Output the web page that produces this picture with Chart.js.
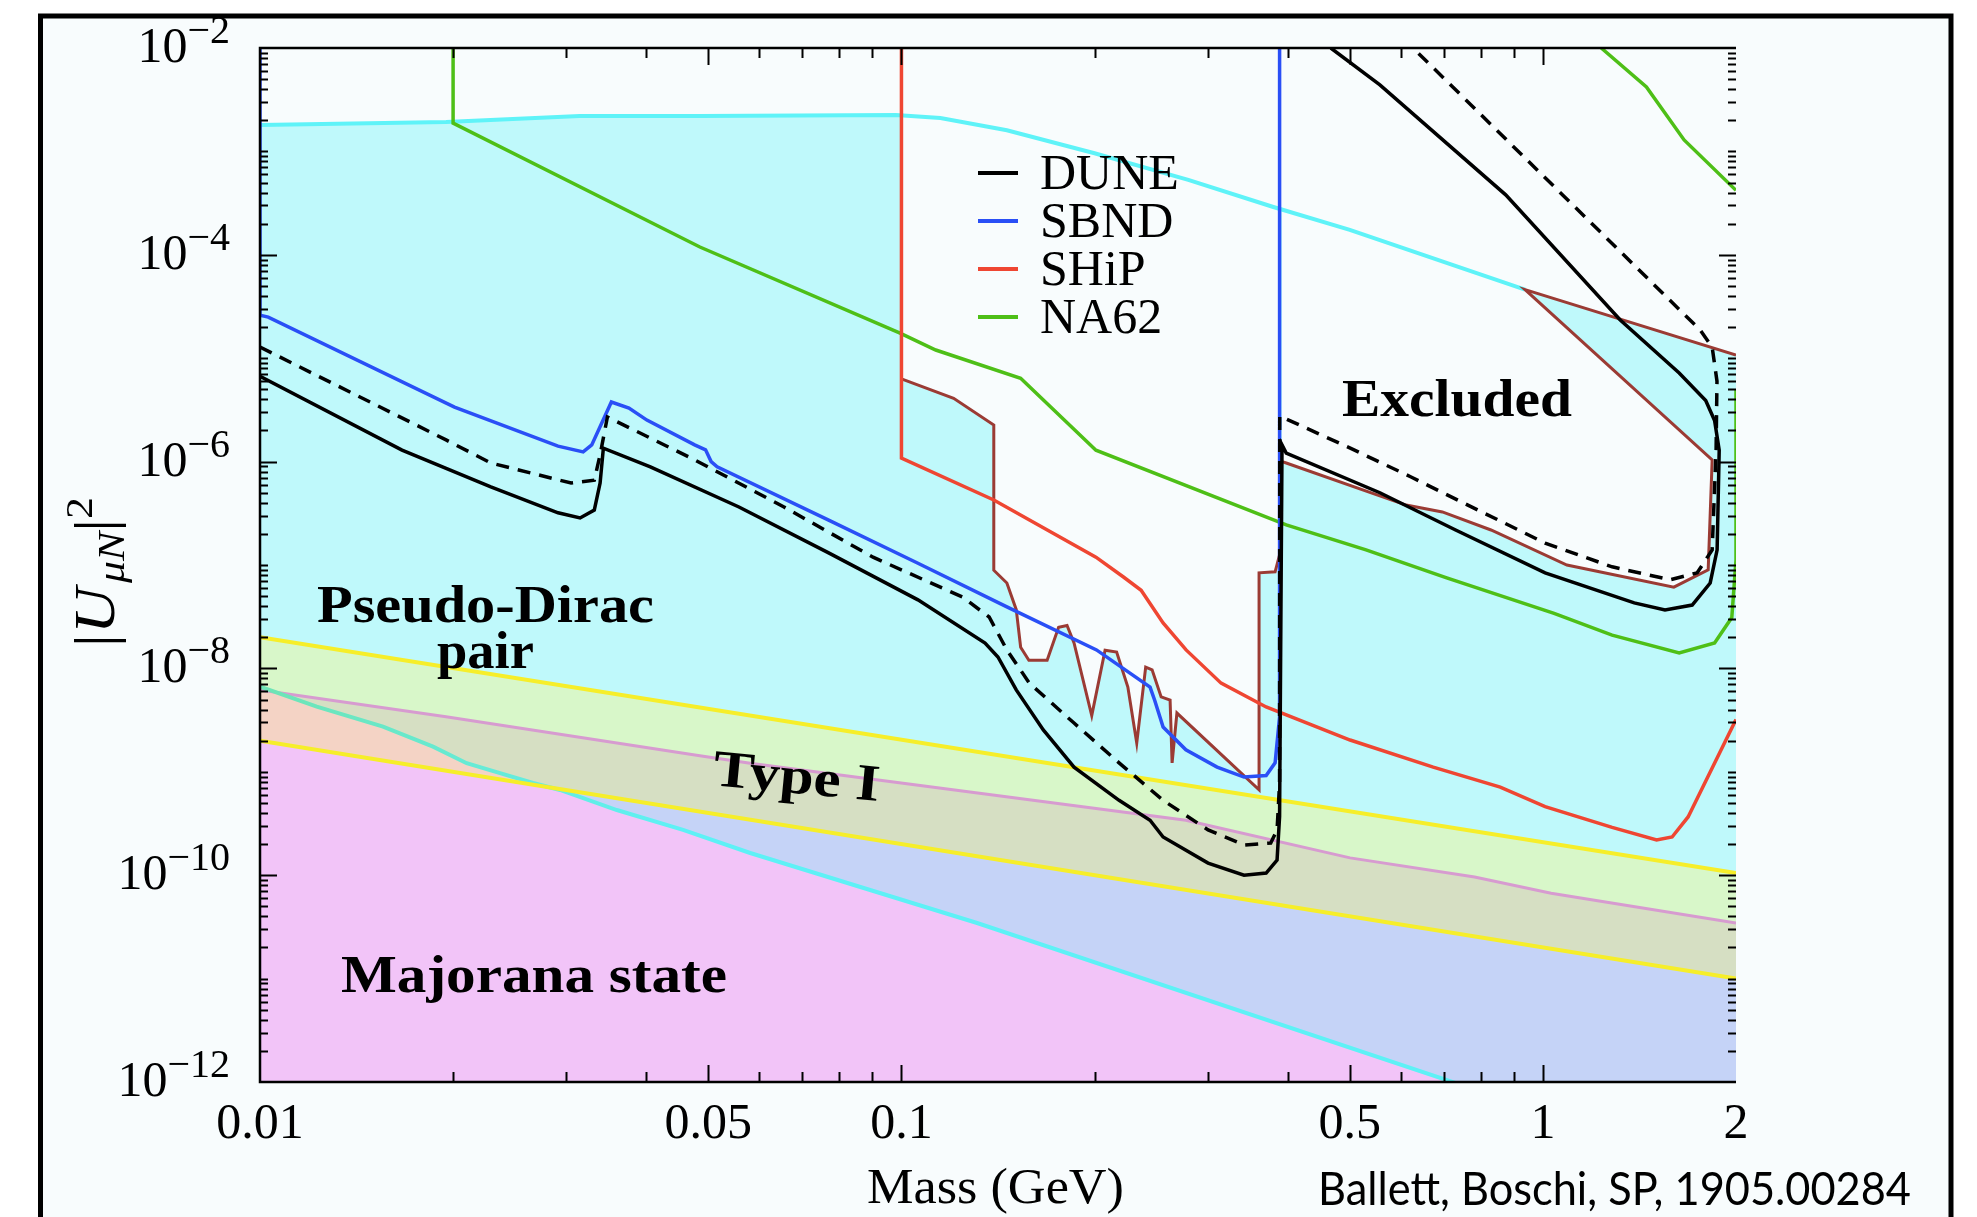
<!DOCTYPE html>
<html>
<head>
<meta charset="utf-8">
<script src="https://cdn.jsdelivr.net/npm/chart.js@4.4.1/dist/chart.umd.min.js"></script>
<style>
  html, body { margin: 0; padding: 0; background: #ffffff; }
  #wrap { width: 1977px; height: 1217px; }
</style>
</head>
<body>
<div id="wrap"><canvas id="hnlChart" width="1977" height="1217"></canvas></div>
<script>
// every pair is [mass in GeV, |U_muN|^2]

// existing bounds (top of the excluded band) and the brown contour pieces
const cyanTop = [[0.01,1.8e-3],[0.0195,1.92e-3],[0.0315,2.2e-3],[0.0485,2.2e-3],[0.098,2.25e-3],[0.115,2.1e-3],[0.146,1.6e-3],[0.2,9.6e-4],[0.28,5.3e-4],[0.38,2.9e-4],[0.5,1.74e-4],[0.938,4.6e-5]];
const triUpper = [[0.938,4.6e-5],[2,1.07e-5]];
const triLower = [[0.938,4.6e-5],[1.836,1.04e-6]];
const brownMid = [[0.1,6.3e-6],[0.1206,4.1e-6],[0.1393,2.26e-6],[0.1393,8.9e-8],[0.146,6.7e-8],[0.151,3.7e-8],[0.1534,1.6e-8],[0.158,1.2e-8],[0.1687,1.2e-8],[0.1758,2.5e-8],[0.1812,2.6e-8],[0.1858,1.76e-8],[0.198,3.5e-9],[0.2077,1.5e-8],[0.2165,1.44e-8],[0.2254,6.6e-9],[0.2327,1.9e-9],[0.2403,1.03e-8],[0.2459,9.7e-9],[0.254,5.3e-9],[0.2623,4.95e-9],[0.2642,1.22e-9],[0.2688,3.7e-9],[0.361,6.7e-10],[0.361,8.4e-8],[0.3824,8.6e-8],[0.3886,1.25e-7]];
const brownRight = [[0.392,1.0e-6],[0.398,9.7e-7],[0.612,3.8e-7],[0.697,3.26e-7],[0.83,2.18e-7],[1.09,1.0e-7],[1.6,6.1e-8],[1.81,9.0e-8],[1.836,1.04e-6]];

// sensitivities
const duneSolid = [[0.01,6.7e-6],[0.01665,1.29e-6],[0.0229,5.7e-7],[0.02915,3.2e-7],[0.03155,2.85e-7],[0.0332,3.4e-7],[0.0339,6.2e-7],[0.0343,1.35e-6],[0.0406,8.9e-7],[0.0558,3.64e-7],[0.077,1.31e-7],[0.1061,4.6e-8],[0.135,1.76e-8],[0.1414,1.29e-8],[0.151,6.2e-9],[0.1664,2.54e-9],[0.1858,1.11e-9],[0.2184,5.3e-10],[0.2441,3.4e-10],[0.2558,2.34e-10],[0.3006,1.31e-10],[0.342,1.0e-10],[0.3703,1.05e-10],[0.3851,1.4e-10],[0.3886,3.7e-10],[0.392,1.45e-6],[0.398,1.21e-6],[0.557,5.0e-7],[0.731,2.18e-7],[1.008,8.4e-8],[1.388,4.3e-8],[1.55,3.67e-8],[1.709,4.1e-8],[1.823,6.7e-8],[1.869,1.4e-7],[1.883,1.29e-6],[1.852,2.5e-6],[1.794,3.9e-6],[1.631,7.2e-6],[1.32,2.34e-5],[0.875,3.8e-4],[0.557,4.4e-3],[0.467,1e-2]];
const duneDashed = [[0.01,1.28e-5],[0.0195,1.62e-6],[0.0229,9.7e-7],[0.03055,6.2e-7],[0.0332,6.6e-7],[0.0339,1.16e-6],[0.0348,2.7e-6],[0.0476,1.04e-6],[0.0656,3.64e-7],[0.0903,1.19e-7],[0.1245,4.9e-8],[0.137,3.14e-8],[0.146,1.51e-8],[0.1583,7.2e-9],[0.1858,2.96e-9],[0.2184,1.22e-9],[0.2558,5.3e-10],[0.3006,2.74e-10],[0.342,1.96e-10],[0.3764,2.05e-10],[0.3851,2.74e-10],[0.3886,7.8e-10],[0.3888,2.76e-6],[0.3917,2.7e-6],[0.497,1.38e-6],[0.623,7.1e-7],[0.792,3.4e-7],[1.008,1.63e-7],[1.282,9.6e-8],[1.579,7.2e-8],[1.74,8.4e-8],[1.836,1.4e-7],[1.862,1.29e-6],[1.868,6.0e-6],[1.836,1.28e-5],[1.759,1.87e-5],[0.639,8.95e-3],[0.625,1e-2]];
const sbnd = [[0.01,1e-2],[0.01,2.6e-5],[0.0103,2.5e-5],[0.0201,3.37e-6],[0.02915,1.41e-6],[0.0319,1.24e-6],[0.0329,1.45e-6],[0.0353,3.77e-6],[0.0376,3.3e-6],[0.0401,2.52e-6],[0.0476,1.45e-6],[0.0495,1.3e-6],[0.0505,1.0e-6],[0.0516,8.9e-7],[0.077,2.72e-7],[0.1061,1.04e-7],[0.146,3.93e-8],[0.2014,1.51e-8],[0.2441,6.6e-9],[0.2481,4.95e-9],[0.2558,2.71e-9],[0.2776,1.63e-9],[0.3105,1.11e-9],[0.342,8.9e-10],[0.3703,9.2e-10],[0.3824,1.22e-9],[0.3886,3.4e-9],[0.3886,1e-2]];
const ship = [[0.1,1e-2],[0.1,1.08e-6],[0.1393,4.25e-7],[0.201,1.19e-7],[0.2216,7.7e-8],[0.2364,5.7e-8],[0.2558,2.75e-8],[0.2778,1.51e-8],[0.315,7.2e-9],[0.3703,4.24e-9],[0.5005,2.03e-9],[0.6745,1.11e-9],[0.858,7.1e-10],[1.008,4.6e-10],[1.282,2.9e-10],[1.504,2.19e-10],[1.59,2.34e-10],[1.684,3.66e-10],[2,3.2e-9]];
const na62 = [[0.02,1e-2],[0.02,1.88e-3],[0.0485,1.19e-4],[0.0995,1.75e-5],[0.1131,1.2e-5],[0.1534,6.4e-6],[0.201,1.29e-6],[0.398,2.44e-7],[0.53,1.4e-7],[0.708,7.5e-8],[1.041,3.4e-8],[1.282,2.1e-8],[1.631,1.41e-8],[1.852,1.76e-8],[1.97,3.1e-8],[2,1.12e-7],[2,5e-6]];
const na62Upper = [[1.233,1e-2],[1.45,4.2e-3],[1.66,1.29e-3],[2,4.2e-4]];

// theory bands
const upperYellow = [[0.01,2.0e-8],[2,1.05e-10]];
const lowerYellow = [[0.01,2.0e-9],[2,1.0e-11]];
const purpleLine = [[0.01,6.2e-9],[0.0195,3.4e-9],[0.0485,1.43e-9],[0.0581,1.21e-9],[0.2776,3.4e-10],[0.5005,1.47e-10],[0.7825,9.6e-11],[1.03,6.7e-11],[2,3.45e-11]];
const tealLine = [[0.01,6.65e-9],[0.01226,4.26e-9],[0.01555,2.73e-9],[0.01861,1.75e-9],[0.021,1.21e-9],[0.02367,9.7e-10],[0.02665,7.8e-10],[0.02936,6.67e-10],[0.036,4.27e-10],[0.04566,2.74e-10],[0.0581,1.64e-10],[0.1312,3.45e-11],[0.73,9.8e-13],[2,1.2e-13]];

// axes
const xTickValues = [0.01, 0.05, 0.1, 0.5, 1, 2];
const xTickLabels = ['0.01', '0.05', '0.1', '0.5', '1', '2'];
const yTickExponents = [-2, -4, -6, -8, -10, -12];
const legendLabels = ['DUNE', 'SBND', 'SHiP', 'NA62'];

const pageColor = '#f8fcfd';
const cyanFill = '#bff9fb';
const colors = {
  dune: '#000000', sbnd: '#2a4ff6', ship: '#ef4632', na62: '#4ebf17',
  brown: '#9b3b34', cyan: '#5ff3f8', yellow: '#f6ee2a', purple: '#d79bd0'
};
const legendColors = [colors.dune, colors.sbnd, colors.ship, colors.na62];

const toXY = arr => arr.map(p => ({ x: p[0], y: p[1] }));

function lineSet(label, arr, color, width, order, extra) {
  return Object.assign({
    label: label, data: toXY(arr), borderColor: color, borderWidth: width,
    pointRadius: 0, fill: false, tension: 0, order: order
  }, extra || {});
}
function fillSet(label, arr, fill, color, order) {
  return {
    label: label, data: toXY(arr), borderWidth: 0, borderColor: 'rgba(0,0,0,0)',
    backgroundColor: color, pointRadius: 0, fill: fill, tension: 0, order: order
  };
}

const datasets = [];
const idx = {};
function add(name, ds) { idx[name] = datasets.length; datasets.push(ds); }

// visible lines (low order = on top)
add('dune', lineSet('DUNE', duneSolid, colors.dune, 3.5, 1));
add('dashed', lineSet('DUNE (dashed)', duneDashed, colors.dune, 3.5, 2, { borderDash: [13, 9] }));
add('sbnd', lineSet('SBND', sbnd, colors.sbnd, 3.5, 3));
add('ship', lineSet('SHiP', ship, colors.ship, 3.5, 4));
add('na62', lineSet('NA62', na62, colors.na62, 3.5, 5));
add('na62Upper', lineSet('NA62 upper', na62Upper, colors.na62, 3.5, 5));
add('brownMid', lineSet('SHiP bound', brownMid, colors.brown, 3, 6));
add('brownRight', lineSet('bound', brownRight.concat(triLower.slice().reverse().slice(1), triUpper.slice(1)), colors.brown, 3, 7));
add('cyanLine', lineSet('limit', cyanTop, colors.cyan, 4, 8));
add('upperYellow', lineSet('upper', upperYellow, colors.yellow, 4, 9));
add('lowerYellow', lineSet('lower', lowerYellow, colors.yellow, 4, 10));
add('teal', lineSet('teal', tealLine, '#5ef0f2', 4, 11, {
  borderColor: function(c) {
    const area = c.chart.chartArea;
    if (!area) return '#5ef0f2';
    const g = c.chart.ctx.createLinearGradient(area.left, 0, area.left + 420, 0);
    g.addColorStop(0, '#6ee4b4');
    g.addColorStop(1, '#5ef1f6');
    return g;
  }
}));
add('purple', lineSet('purple', purpleLine, colors.purple, 3, 12));
add('triUpperRef', lineSet('', triUpper, 'rgba(0,0,0,0)', 0, 13));

// fills (high order = underneath)
add('exclFill', fillSet('', cyanTop.concat(triUpper.slice(1)), 'start', cyanFill, 50));
add('pocketMid', fillSet('', brownMid, 'end', pageColor, 49));
add('pocketRight', fillSet('', brownRight, 'end', pageColor, 48));
add('triFill', fillSet('', triLower, { target: idx.triUpperRef }, cyanFill, 47));
add('pinkFill', fillSet('', lowerYellow, 'start', '#f2c4f8', 46));
add('oliveFill', fillSet('', purpleLine, { target: idx.lowerYellow }, '#d6dfc3', 45));
add('greenFill', fillSet('', upperYellow, { target: idx.purple }, '#d8f7c9', 44));
add('tealFill', fillSet('', tealLine, { target: idx.lowerYellow, above: '#f4d3c5', below: '#c5d3f7' }, '#c5d3f7', 43));

// draws text squeezed/stretched to a given width, left edge at x
function fitText(ctx, text, x, y, w) {
  const m = ctx.measureText(text).width;
  ctx.save();
  ctx.translate(x, y);
  ctx.scale(w / m, 1);
  ctx.textAlign = 'left';
  ctx.fillText(text, 0, 0);
  ctx.restore();
}

const decor = {
  id: 'decor',
  beforeDraw(chart) {
    const ctx = chart.ctx;
    ctx.save();
    ctx.fillStyle = '#ffffff';
    ctx.fillRect(0, 0, chart.width, chart.height);
    ctx.fillStyle = pageColor;
    ctx.fillRect(40, 16, 1911, 1210);
    ctx.restore();
  },
  afterDatasetsDraw(chart) {
    const ctx = chart.ctx, a = chart.chartArea;
    const xs = chart.scales.x, ys = chart.scales.y;
    ctx.save();
    ctx.strokeStyle = '#000';
    ctx.lineWidth = 2.5;
    ctx.beginPath();
    ctx.moveTo(a.right, a.top); ctx.lineTo(a.left, a.top);
    ctx.lineTo(a.left, a.bottom); ctx.lineTo(a.right, a.bottom);
    ctx.stroke();

    ctx.lineWidth = 2;
    ctx.beginPath();
    // mass ticks, inward on bottom and top
    for (let e = -2; e <= 0; e++) {
      for (let k = 1; k <= 9; k++) {
        const v = k * Math.pow(10, e);
        if (v <= 0.01001 || v >= 1.999) continue;
        const major = xTickValues.some(t => Math.abs(t - v) < 1e-9);
        const len = major ? 17 : 10;
        const px = Math.round(xs.getPixelForValue(v)) + 0.5;
        ctx.moveTo(px, a.bottom); ctx.lineTo(px, a.bottom - len);
        ctx.moveTo(px, a.top); ctx.lineTo(px, a.top + len);
      }
    }
    // mixing ticks, inward on left and right
    for (let e = -12; e < -2; e++) {
      for (let k = 1; k <= 9; k++) {
        const v = k * Math.pow(10, e);
        if (k === 1 && e === -12) continue;
        const major = k === 1 && yTickExponents.indexOf(e) >= 0;
        const len = major ? 17 : 8;
        const py = Math.round(ys.getPixelForValue(v)) + 0.5;
        ctx.moveTo(a.left, py); ctx.lineTo(a.left + len, py);
        ctx.moveTo(a.right, py); ctx.lineTo(a.right - len, py);
      }
    }
    ctx.stroke();
    ctx.restore();
  },
  afterDraw(chart) {
    const ctx = chart.ctx, a = chart.chartArea;
    const xs = chart.scales.x, ys = chart.scales.y;
    const serif = '"Liberation Serif", "DejaVu Serif", serif';
    ctx.save();
    ctx.fillStyle = '#000';

    // x tick labels
    ctx.font = '50px ' + serif;
    ctx.textAlign = 'center';
    ctx.textBaseline = 'alphabetic';
    xTickValues.forEach((v, i) => {
      ctx.fillText(xTickLabels[i], xs.getPixelForValue(v), 1138);
    });

    // y tick labels: 10 with superscript exponent
    yTickExponents.forEach(e => {
      const py = ys.getPixelForValue(Math.pow(10, e));
      const sup = '\u2212' + Math.abs(e);
      ctx.font = '40px ' + serif;
      ctx.textAlign = 'right';
      ctx.fillText(sup, 230, py - 5);
      const sw = ctx.measureText(sup).width;
      ctx.font = '50px ' + serif;
      ctx.fillText('10', 230 - sw, py + 14);
    });

    // axis titles
    ctx.font = '50px ' + serif;
    fitText(ctx, 'Mass (GeV)', 867, 1203, 257);

    const parts = [
      ['|', 'normal', 56, 0], ['U', 'italic', 56, 0], ['\u03bcN', 'italic', 38, 10],
      ['|', 'normal', 56, 0], ['2', 'normal', 38, -22]
    ];
    let total = 0;
    parts.forEach(p => { ctx.font = p[1] + ' ' + p[2] + 'px ' + serif; p.push(ctx.measureText(p[0]).width + (p[0] === 'U' ? 4 : 0)); total += p[4]; });
    ctx.save();
    ctx.translate(98, 572);
    ctx.rotate(-Math.PI / 2);
    ctx.scale(150 / total, 1);
    let cx = -total / 2;
    ctx.textAlign = 'left';
    parts.forEach(p => {
      ctx.font = p[1] + ' ' + p[2] + 'px ' + serif;
      ctx.fillText(p[0], cx, 16 + p[3]);
      cx += p[4];
    });
    ctx.restore();

    // legend
    legendLabels.forEach((lab, i) => {
      const y = 173 + i * 48;
      ctx.strokeStyle = legendColors[i];
      ctx.lineWidth = 4;
      ctx.beginPath(); ctx.moveTo(978, y); ctx.lineTo(1018, y); ctx.stroke();
      ctx.font = '50px ' + serif;
      ctx.textAlign = 'left';
      ctx.fillText(lab, 1040, y + 16);
    });

    // region labels
    ctx.font = 'bold 52px ' + serif;
    fitText(ctx, 'Pseudo-Dirac', 317, 622, 337);
    fitText(ctx, 'pair', 437, 668, 97);
    fitText(ctx, 'Excluded', 1342, 416, 230);
    fitText(ctx, 'Majorana state', 341, 992, 386);
    ctx.save();
    ctx.translate(712, 785);
    ctx.rotate(5.5 * Math.PI / 180);
    fitText(ctx, 'Type I', 0, 0, 167);
    ctx.restore();

    // citation
    ctx.font = '46px Lato, "Open Sans", sans-serif';
    fitText(ctx, 'Ballett, Boschi, SP, 1905.00284', 1318, 1205, 593);

    // outer frame
    ctx.strokeStyle = '#000';
    ctx.lineWidth = 5;
    ctx.strokeRect(40.5, 16, 1910.5, 1240);
    ctx.restore();
  }
};

new Chart(document.getElementById('hnlChart'), {
  type: 'line',
  data: { datasets: datasets },
  options: {
    responsive: false,
    animation: false,
    events: [],
    layout: { padding: { left: 260, top: 48, right: 241, bottom: 135 } },
    plugins: { legend: { display: false }, tooltip: { enabled: false } },
    scales: {
      x: { type: 'logarithmic', min: 0.01, max: 2, display: false },
      y: { type: 'logarithmic', min: 1e-12, max: 1e-2, display: false }
    }
  },
  plugins: [decor]
});
</script>
</body>
</html>
